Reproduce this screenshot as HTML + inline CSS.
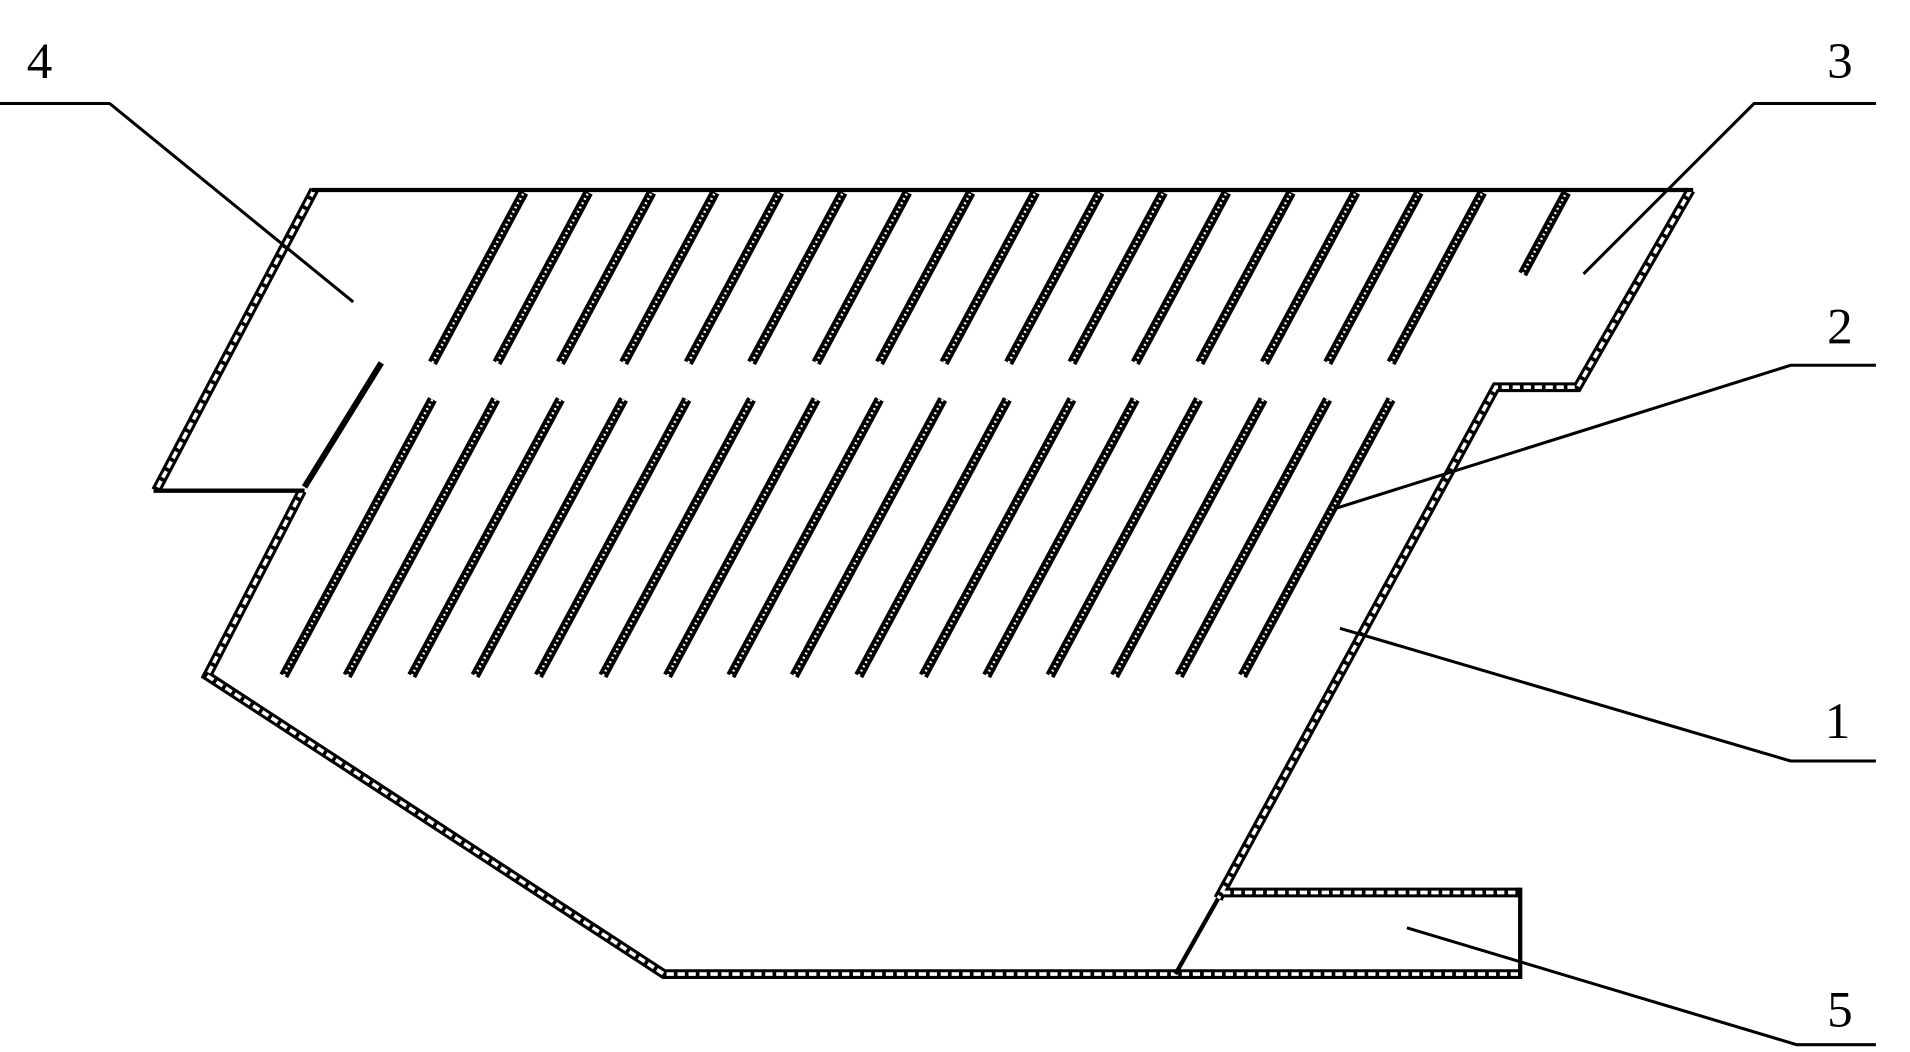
<!DOCTYPE html>
<html><head><meta charset="utf-8"><style>
html,body{margin:0;padding:0;background:#fff;}
svg{display:block;}
text{font-family:"Liberation Serif",serif;font-size:42px;fill:#000;}
</style></head><body>
<svg width="1910" height="1052" viewBox="0 0 1568 864" preserveAspectRatio="none" xmlns="http://www.w3.org/2000/svg">
<defs>
<g id="walls">
<path d="M1388,156 L1295,318 L1228,318 L1000,738"/>
<path d="M258,156 L128,403"/>
<path d="M248,403 L170,555 L545,800 L1248,800"/>
<path d="M1004,733 L1248,733"/>
</g>
<g id="barset">
<line x1="355" y1="298" x2="430" y2="158"/><line x1="408" y1="298" x2="483" y2="158"/><line x1="460" y1="298" x2="535" y2="158"/><line x1="512" y1="298" x2="587" y2="158"/><line x1="565" y1="298" x2="640" y2="158"/><line x1="617" y1="298" x2="692" y2="158"/><line x1="670" y1="298" x2="745" y2="158"/><line x1="722" y1="298" x2="797" y2="158"/><line x1="775" y1="298" x2="850" y2="158"/><line x1="828" y1="298" x2="903" y2="158"/><line x1="880" y1="298" x2="955" y2="158"/><line x1="932" y1="298" x2="1007" y2="158"/><line x1="985" y1="298" x2="1060" y2="158"/><line x1="1038" y1="298" x2="1113" y2="158"/><line x1="1090" y1="298" x2="1165" y2="158"/><line x1="1142" y1="298" x2="1217" y2="158"/><line x1="1250" y1="225" x2="1286" y2="158"/>
<line x1="233" y1="555" x2="355" y2="328"/><line x1="285" y1="555" x2="407" y2="328"/><line x1="338" y1="555" x2="460" y2="328"/><line x1="390" y1="555" x2="512" y2="328"/><line x1="442" y1="555" x2="564" y2="328"/><line x1="495" y1="555" x2="617" y2="328"/><line x1="548" y1="555" x2="670" y2="328"/><line x1="600" y1="555" x2="722" y2="328"/><line x1="652" y1="555" x2="774" y2="328"/><line x1="705" y1="555" x2="827" y2="328"/><line x1="758" y1="555" x2="880" y2="328"/><line x1="810" y1="555" x2="932" y2="328"/><line x1="862" y1="555" x2="984" y2="328"/><line x1="915" y1="555" x2="1037" y2="328"/><line x1="968" y1="555" x2="1090" y2="328"/><line x1="1020" y1="555" x2="1142" y2="328"/>
</g>
</defs>
<g fill="none" stroke="#000" stroke-width="8" stroke-linejoin="miter"><use href="#walls"/></g>
<g fill="none" stroke="#fff" stroke-width="3" stroke-dasharray="6 3"><use href="#walls"/></g>
<g fill="none" stroke="#000" stroke-width="3.5">
<path d="M256,156 L1390,156"/>
<path d="M126,403 L250,403"/>
<path d="M1000,738 L965,800"/>
<path d="M1248,729 L1248,804"/>
</g>
<g stroke="#000" stroke-width="8"><use href="#barset"/></g>
<g stroke="#fff" stroke-width="2" stroke-dasharray="1.5 2.5"><use href="#barset"/></g>
<line x1="250" y1="400" x2="313" y2="298" stroke="#000" stroke-width="5"/>
<g stroke="#000" stroke-width="2.5" fill="none">
<polyline points="0,85 90,85 290,248"/>
<polyline points="1540,85 1440,85 1300,225"/>
<polyline points="1540,300 1470,300 1095,418"/>
<polyline points="1540,625 1470,625 1100,516"/>
<polyline points="1540,858 1475,858 1155,762"/>
</g>
<text x="22" y="64">4</text>
<text x="1500" y="64">3</text>
<text x="1500" y="282">2</text>
<text x="1498" y="606">1</text>
<text x="1500" y="843">5</text>
</svg>
</body></html>
